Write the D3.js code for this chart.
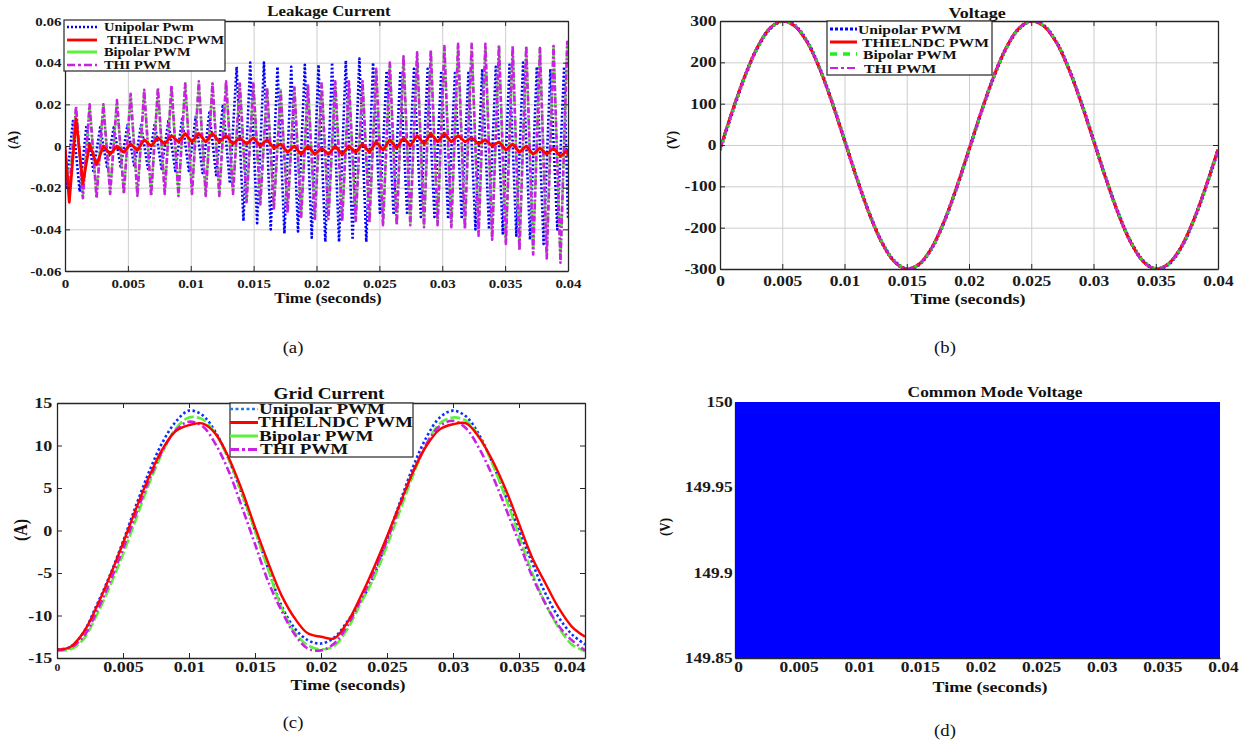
<!DOCTYPE html>
<html>
<head>
<meta charset="utf-8">
<script src="https://cdn.jsdelivr.net/npm/d3@7"></script>
<style>
  body { margin: 0; background: #fff; }
  svg { display: block; }
</style>
</head>
<body>
<svg id="fig" width="1251" height="745"></svg>
<script>
// ---- shared tick values ----
const timeTicks = [0, 0.005, 0.01, 0.015, 0.02, 0.025, 0.03, 0.035, 0.04];
const leakTicks = [-0.06, -0.04, -0.02, 0, 0.02, 0.04, 0.06];
const voltTicks = [-300, -200, -100, 0, 100, 200, 300];
const gridTicks = [-15, -10, -5, 0, 5, 10, 15];
const cmvTicks = [149.85, 149.9, 149.95, 150];

const legendNamesA = ["Unipolar Pwm", "THIELNDC PWM", "Bipolar PWM", "THI PWM"];
const legendNames = ["Unipolar PWM", "THIELNDC PWM", "Bipolar PWM", "THI PWM"];

// ---- (a) leakage current: extrema of each switching cycle ----
const leakPeakT = [0.00088, 0.00196, 0.00305, 0.00413, 0.00522, 0.00630, 0.00739, 0.00847, 0.00956, 0.01064,
  0.01173, 0.01281, 0.01390, 0.01498, 0.01607, 0.01715, 0.01824, 0.01932, 0.02041, 0.02149,
  0.02258, 0.02366, 0.02475, 0.02583, 0.02692, 0.02800, 0.02909, 0.03017, 0.03126, 0.03234,
  0.03343, 0.03451, 0.03560, 0.03668, 0.03777, 0.03885, 0.03994];
const leakTroughT = [0.00034, 0.00142, 0.00251, 0.00359, 0.00468, 0.00576, 0.00685, 0.00793, 0.00902, 0.01010,
  0.01119, 0.01227, 0.01336, 0.01444, 0.01553, 0.01661, 0.01770, 0.01878, 0.01987, 0.02095,
  0.02204, 0.02312, 0.02421, 0.02529, 0.02638, 0.02746, 0.02855, 0.02963, 0.03072, 0.03180,
  0.03289, 0.03397, 0.03506, 0.03614, 0.03723, 0.03831, 0.03940];
const unipolarLead = -0.00025; // unipolar spikes come slightly earlier

const unipolarPeaks = [0.012, 0.010, 0.009, 0.009, 0.010, 0.010, 0.011, 0.012, 0.013, 0.014, 0.016, 0.020,
  0.038, 0.040, 0.040, 0.038, 0.038, 0.039, 0.039, 0.040, 0.041, 0.042, 0.040, 0.036, 0.036, 0.037,
  0.037, 0.036, 0.035, 0.036, 0.037, 0.038, 0.039, 0.040, 0.038, 0.037, 0.038];
const unipolarTroughs = [-0.020, -0.022, -0.012, -0.010, -0.010, -0.010, -0.011, -0.011, -0.012, -0.012, -0.013, -0.014, -0.018,
  -0.036, -0.037, -0.040, -0.042, -0.041, -0.044, -0.046, -0.046, -0.045, -0.046,
  -0.032, -0.033, -0.033, -0.034, -0.034, -0.035, -0.035,
  -0.040, -0.040, -0.042, -0.043, -0.045, -0.047, -0.040];
const unipolarEnds = [0, -0.035];

const thielndcPeaks = [0.013, 0.001, 0.000, 0.000, 0.001, 0.003, 0.004, 0.005, 0.006, 0.006, 0.006, 0.005,
  0.004, 0.004, 0.003, 0.001, 0.000, 0.000, -0.001, 0.000, 0.000, 0.001, 0.002, 0.003, 0.004, 0.005,
  0.006, 0.006, 0.005, 0.004, 0.003, 0.002, 0.001, 0.000, -0.001, -0.001, -0.002];
const thielndcTroughs = [-0.027, -0.018, -0.009, -0.004, -0.003, -0.002, 0.000, 0.001, 0.002, 0.002, 0.002, 0.002,
  0.001, 0.001, 0.000, -0.001, -0.003, -0.004, -0.004, -0.004, -0.004, -0.003, -0.003, -0.002, -0.001,
  0.000, 0.001, 0.002, 0.002, 0.002, 0.001, 0.000, -0.002, -0.003, -0.004, -0.004, -0.005];
const thielndcEnds = [0, -0.005];

const bipolarPeaks = [0.018, 0.019, 0.020, 0.021, 0.024, 0.026, 0.027, 0.028, 0.030, 0.030, 0.030, 0.030,
  0.029, 0.029, 0.028, 0.027, 0.028, 0.029, 0.029, 0.030, 0.030, 0.031, 0.036, 0.039, 0.042, 0.044,
  0.045, 0.047, 0.048, 0.048, 0.048, 0.048, 0.047, 0.047, 0.047, 0.048, 0.049];
const bipolarTroughs = [-0.020, -0.024, -0.024, -0.022, -0.022, -0.023, -0.023, -0.022, -0.023, -0.022, -0.023, -0.023,
  -0.022, -0.026, -0.027, -0.029, -0.031, -0.033, -0.034, -0.034, -0.035, -0.035, -0.036, -0.037, -0.037,
  -0.037, -0.038, -0.037, -0.038, -0.039, -0.041, -0.044, -0.046, -0.049, -0.050, -0.052, -0.054];
const bipolarEnds = [-0.002, 0.046];

const thiPeaks = [0.019, 0.020, 0.020, 0.022, 0.025, 0.027, 0.028, 0.029, 0.030, 0.031, 0.030, 0.031,
  0.030, 0.030, 0.028, 0.026, 0.028, 0.029, 0.030, 0.031, 0.031, 0.031, 0.037, 0.040, 0.043, 0.045,
  0.046, 0.048, 0.049, 0.049, 0.049, 0.048, 0.048, 0.048, 0.047, 0.048, 0.050];
const thiTroughs = [-0.022, -0.025, -0.025, -0.023, -0.023, -0.024, -0.024, -0.023, -0.024, -0.023, -0.024, -0.024,
  -0.023, -0.027, -0.028, -0.030, -0.032, -0.034, -0.035, -0.035, -0.036, -0.036, -0.037, -0.038, -0.038,
  -0.038, -0.039, -0.038, -0.039, -0.040, -0.043, -0.045, -0.047, -0.050, -0.052, -0.054, -0.056];
const thiEnds = [-0.002, 0.047];

// ---- (b) and (c): one sample per millisecond ----
const sampleT = [0, 0.001, 0.002, 0.003, 0.004, 0.005, 0.006, 0.007, 0.008, 0.009, 0.010,
  0.011, 0.012, 0.013, 0.014, 0.015, 0.016, 0.017, 0.018, 0.019, 0.020,
  0.021, 0.022, 0.023, 0.024, 0.025, 0.026, 0.027, 0.028, 0.029, 0.030,
  0.031, 0.032, 0.033, 0.034, 0.035, 0.036, 0.037, 0.038, 0.039, 0.040];

const voltUnipolar = [-12, 81, 166, 235, 281, 300, 289, 250, 186, 104, 12, -81, -166, -235, -281, -300, -289, -250, -186, -104,
  -12, 81, 166, 235, 281, 300, 289, 250, 186, 104, 12, -81, -166, -235, -281, -300, -289, -250, -186, -104, -12];
const voltTHIELNDC = [-10, 83, 167, 236, 282, 300, 288, 249, 185, 103, 11, -82, -167, -236, -282, -300, -288, -249, -185, -103,
  -11, 82, 167, 236, 282, 300, 288, 249, 185, 103, 11, -82, -167, -236, -282, -300, -288, -249, -185, -103, -11];
const voltBipolar = [-13, 80, 165, 234, 281, 299, 289, 251, 187, 105, 13, -80, -165, -234, -281, -299, -289, -251, -187, -105,
  -13, 80, 165, 234, 281, 299, 289, 251, 187, 105, 13, -80, -165, -234, -281, -299, -289, -251, -187, -105, -13];
const voltTHI = [-11, 82, 166, 236, 282, 300, 288, 250, 186, 104, 12, -82, -166, -236, -282, -300, -288, -250, -186, -104,
  -12, 82, 166, 236, 282, 300, 288, 250, 186, 104, 12, -82, -166, -236, -282, -300, -288, -250, -186, -104, -12];

const gridUnipolar = [-14.0, -13.7, -12.0, -8.8, -5.3, -1.3, 3.0, 7.0, 10.4, 12.8, 14.1, 13.6, 11.6, 8.4, 4.3, 0.0,
  -4.5, -8.8, -11.5, -12.9, -13.3, -12.6, -10.7, -8.4, -5.4, -1.0, 3.4, 7.6, 11.0, 13.3, 14.1,
  13.4, 11.2, 7.9, 4.0, 0.0, -3.8, -7.4, -10.2, -12.2, -13.4];
const gridTHIELNDC = [-14.0, -13.7, -12.0, -9.0, -5.4, -1.5, 2.6, 6.4, 9.6, 11.7, 12.4, 12.6, 11.4, 8.6, 4.8, 0.4,
  -3.8, -7.6, -10.3, -12.1, -12.5, -12.7, -10.8, -7.8, -4.4, -0.7, 3.2, 7.0, 10.0, 11.9, 12.5,
  12.6, 10.9, 8.2, 4.8, 0.8, -3.2, -6.2, -9.1, -11.3, -12.5];
const gridBipolar = [-14.1, -14.0, -12.8, -10.0, -6.6, -2.8, 1.4, 5.6, 9.2, 12.0, 13.3, 13.1, 11.4, 8.4, 4.4, 0.0,
  -4.6, -9.0, -12.0, -13.5, -14.0, -13.6, -11.6, -8.6, -5.6, -1.8, 2.4, 6.6, 10.2, 12.6, 13.3,
  12.9, 11.0, 7.8, 3.8, -0.6, -5.0, -8.6, -11.4, -13.4, -14.2];
const gridTHI = [-14.1, -13.8, -12.5, -9.6, -6.1, -2.2, 2.0, 6.0, 9.4, 11.8, 12.8, 12.3, 10.2, 7.0, 2.8, -1.6,
  -6.0, -9.4, -12.2, -13.9, -14.1, -13.3, -11.2, -8.2, -4.9, -1.2, 3.0, 7.0, 10.2, 12.3, 12.9,
  12.0, 9.6, 6.4, 2.6, -1.4, -5.4, -8.6, -11.2, -12.9, -14.1];

// ---- (d) common mode voltage fills the whole view ----
const cmvT = [0, 0.04];
const cmvHigh = [150, 150];
const cmvLow = [149.85, 149.85];

// ---- drawing ----
var svg = d3.select("#fig");
var SERIF = '"Liberation Serif", "Times New Roman", serif';
var STRETCH = 1.2; // the source figure is widened horizontally

var BLUE = "#0000ff", RED = "#ff0000", GREEN = "#5cf23a", MAGENTA = "#cc1ee6";

function txt(parent, x, y, str, size, opt) {
  opt = opt || {};
  var sc = opt.rotate ? "rotate(-90) scale(1," + STRETCH + ")" : "scale(" + (opt.sx || STRETCH) + ",1)";
  return parent.append("text")
    .attr("transform", "translate(" + x + "," + y + ") " + sc)
    .attr("text-anchor", opt.anchor || "middle")
    .attr("font-family", SERIF)
    .attr("font-size", size)
    .attr("font-weight", opt.weight || "bold")
    .attr("fill", opt.fill || "#111")
    .text(str);
}

function styleAxis(a, size) {
  a.attr("font-size", null).attr("font-family", null);
  a.select(".domain").attr("stroke", "#262626").attr("stroke-width", 1.3);
  a.selectAll(".tick line").attr("stroke", "#262626");
  a.selectAll("text")
    .attr("font-family", SERIF)
    .attr("font-weight", "bold")
    .attr("font-size", size)
    .attr("fill", "#1a1a1a")
    .attr("transform", "scale(" + STRETCH + ",1)");
}

function makePanel(p, drawMarks) {
  var w = p.right - p.left, h = p.bottom - p.top;
  var x = d3.scaleLinear().domain([0, 0.04]).range([p.left, p.right]);
  var y = d3.scaleLinear().domain(p.yDomain).range([p.bottom, p.top]);
  var g = svg.append("g");

  // grid
  if (p.grid) {
    g.append("g").attr("transform", "translate(0," + p.bottom + ")")
      .call(d3.axisBottom(x).tickValues(timeTicks).tickSize(-h).tickFormat(""))
      .call(a => a.select(".domain").remove())
      .call(a => a.selectAll("line").attr("stroke", "#cdcdcd"));
    g.append("g").attr("transform", "translate(" + p.left + ",0)")
      .call(d3.axisLeft(y).tickValues(p.yTicks).tickSize(-w).tickFormat(""))
      .call(a => a.select(".domain").remove())
      .call(a => a.selectAll("line").attr("stroke", "#cdcdcd"));
  }

  svg.append("clipPath").attr("id", p.id)
    .append("rect").attr("x", p.left).attr("y", p.top).attr("width", w).attr("height", h);
  var marks = g.append("g").attr("clip-path", "url(#" + p.id + ")");

  if (!p.marksOver) drawMarks(marks, x, y);

  var tick = p.noTicks ? 0 : -5;

  var xa = g.append("g").attr("transform", "translate(0," + p.bottom + ")")
    .call(d3.axisBottom(x).tickValues(timeTicks).tickSizeInner(tick).tickSizeOuter(0)
      .tickPadding(p.xPad).tickFormat(d => String(+d.toFixed(3))))
    .call(a => styleAxis(a, p.tickSize));
  if (p.xShift) xa.selectAll("text").attr("x", p.xShift / STRETCH);
  if (p.smallZero) xa.selectAll("text").filter(d => d === 0).attr("font-size", p.tickSize * 0.65).attr("dy", "1.05em");
  if (p.lastEnd) xa.selectAll("text").filter(d => d === 0.04).attr("text-anchor", "end");

  g.append("g").attr("transform", "translate(" + p.left + ",0)")
    .call(d3.axisLeft(y).tickValues(p.yTicks).tickSizeInner(tick).tickSizeOuter(0)
      .tickPadding(p.yPad).tickFormat(p.yFmt))
    .call(a => styleAxis(a, p.tickSize));

  if (!p.noTicks) {
    g.append("g").attr("transform", "translate(0," + p.top + ")")
      .call(d3.axisTop(x).tickValues(timeTicks).tickSizeInner(-5).tickSizeOuter(0).tickFormat(""))
      .call(a => styleAxis(a, p.tickSize));
    g.append("g").attr("transform", "translate(" + p.right + ",0)")
      .call(d3.axisRight(y).tickValues(p.yTicks).tickSizeInner(-5).tickSizeOuter(0).tickFormat(""))
      .call(a => styleAxis(a, p.tickSize));
  }

  if (p.marksOver) drawMarks(g, x, y);
  return g;
}

function legend(box, rowsY, names, styleList, size, lineX, textX, sx) {
  var g = svg.append("g");
  g.append("rect")
    .attr("x", box[0]).attr("y", box[1]).attr("width", box[2]).attr("height", box[3])
    .attr("fill", "#fff").attr("stroke", "#262626").attr("stroke-width", 1.2);
  names.forEach(function (name, i) {
    var s = styleList[i];
    g.append("line")
      .attr("x1", lineX[0]).attr("x2", lineX[1]).attr("y1", rowsY[i]).attr("y2", rowsY[i])
      .attr("stroke", s.color).attr("stroke-width", s.width)
      .attr("stroke-dasharray", s.dash || null);
    txt(g, textX[i], rowsY[i] + size * 0.35, name, size, {anchor: "start", sx: sx});
  });
}

function drawSeries(g, line, pts, s) {
  g.append("path").datum(pts)
    .attr("fill", "none")
    .attr("stroke", s.color)
    .attr("stroke-width", s.width)
    .attr("stroke-dasharray", s.dash || null)
    .attr("stroke-linejoin", "round")
    .attr("d", line);
}

function leakPoints(troughs, peaks, ends, shift) {
  var pts = [[0, ends[0]]];
  leakPeakT.forEach(function (t, k) {
    pts.push([leakTroughT[k] + shift, troughs[k]]);
    pts.push([t + shift, peaks[k]]);
  });
  pts.push([0.04, ends[1]]);
  return pts;
}

function zipT(vals) {
  return sampleT.map((t, i) => [t, vals[i]]);
}

// ---------- (a) Leakage Current ----------
var styleA = [
  {color: BLUE, width: 2.6, dash: "2,2"},
  {color: RED, width: 2.8},
  {color: GREEN, width: 2.6, dash: "6,2.5"},
  {color: MAGENTA, width: 2.6, dash: "6,2,2,2"}
];
makePanel({id: "clipA", left: 65, right: 568, top: 21, bottom: 271, yDomain: [-0.06, 0.06], yTicks: leakTicks,
  yFmt: d => String(+d.toFixed(2)), grid: true, tickSize: 12.5, xPad: 8, yPad: 3}, function (g, x, y) {
  var line = d3.line().x(d => x(d[0])).y(d => y(d[1]));
  drawSeries(g, line, leakPoints(unipolarTroughs, unipolarPeaks, unipolarEnds, unipolarLead), styleA[0]);
  drawSeries(g, line, leakPoints(bipolarTroughs, bipolarPeaks, bipolarEnds, 0), styleA[2]);
  drawSeries(g, line, leakPoints(thiTroughs, thiPeaks, thiEnds, 0), styleA[3]);
  drawSeries(g, line, leakPoints(thielndcTroughs, thielndcPeaks, thielndcEnds, 0), styleA[1]);
});
txt(svg, 329, 16, "Leakage Current", 14);
txt(svg, 328, 303, "Time (seconds)", 14);
txt(svg, 18, 140, "(A)", 13, {rotate: true});
legend([64, 20, 161, 51], [27, 40, 52, 65], legendNamesA,
  [styleA[0], styleA[1], {color: GREEN, width: 3}, {color: MAGENTA, width: 2.6, dash: "8,3,3,3"}],
  12, [67, 97], [104, 107, 104, 104]);
txt(svg, 293, 353, "(a)", 17, {weight: "normal", sx: 1.1});

// ---------- (b) Voltage ----------
var styleB = [
  {color: BLUE, width: 3.6, dash: "2,2"},
  {color: RED, width: 3},
  {color: "#22dd22", width: 3, dash: "3,5"},
  {color: MAGENTA, width: 2, dash: "8,3,2,3"}
];
makePanel({id: "clipB", left: 720, right: 1218, top: 21, bottom: 269, yDomain: [-300, 300], yTicks: voltTicks,
  yFmt: d => String(d), grid: true, tickSize: 14.5, xPad: 7, yPad: 3}, function (g, x, y) {
  var line = d3.line().x(d => x(d[0])).y(d => y(d[1])).curve(d3.curveCatmullRom);
  drawSeries(g, line, zipT(voltUnipolar), styleB[0]);
  drawSeries(g, line, zipT(voltTHIELNDC), styleB[1]);
  drawSeries(g, line, zipT(voltBipolar), styleB[2]);
  drawSeries(g, line, zipT(voltTHI), styleB[3]);
});
txt(svg, 977, 18, "Voltage", 15);
txt(svg, 968, 304, "Time (seconds)", 15);
txt(svg, 677, 140, "(V)", 13, {rotate: true});
legend([827, 21, 165, 54], [29, 42, 54, 68], legendNames,
  [{color: BLUE, width: 3, dash: "3,2"}, {color: RED, width: 3}, {color: "#22ee22", width: 3.5, dash: "7,6"},
   {color: MAGENTA, width: 2, dash: "8,3,3,3"}],
  13, [830, 857], [858, 862, 863, 864]);
txt(svg, 945, 353, "(b)", 17, {weight: "normal", sx: 1.1});

// ---------- (c) Grid Current ----------
var styleC = [
  {color: "#0a30ff", width: 2.6, dash: "2.5,2.5"},
  {color: RED, width: 2.4},
  {color: GREEN, width: 2.6, dash: "10,3"},
  {color: MAGENTA, width: 2.6, dash: "8,3,2,3"}
];
makePanel({id: "clipC", left: 57, right: 585, top: 403, bottom: 658, yDomain: [-15, 15], yTicks: gridTicks,
  yFmt: d => String(d), grid: false, tickSize: 15, xPad: 3, yPad: 4, smallZero: true, lastEnd: true}, function (g, x, y) {
  var line = d3.line().x(d => x(d[0])).y(d => y(d[1])).curve(d3.curveCatmullRom);
  drawSeries(g, line, zipT(gridUnipolar), styleC[0]);
  drawSeries(g, line, zipT(gridBipolar), styleC[2]);
  drawSeries(g, line, zipT(gridTHI), styleC[3]);
  drawSeries(g, line, zipT(gridTHIELNDC), styleC[1]);
});
txt(svg, 329, 399, "Grid Current", 16);
txt(svg, 348, 690, "Time (seconds)", 15);
txt(svg, 27, 530, "(A)", 16, {rotate: true});
legend([230, 403, 183, 54], [409, 422.5, 436, 449.5], legendNames,
  [{color: "#2a78d8", width: 2.6, dash: "3,2.5"}, {color: RED, width: 3}, {color: GREEN, width: 3},
   {color: MAGENTA, width: 3, dash: "9,3,3,3"}],
  14, [230, 258], [259, 258, 259, 260], 1.36);
txt(svg, 293, 728, "(c)", 17, {weight: "normal", sx: 1.1});

// ---------- (d) Common Mode Voltage ----------
makePanel({id: "clipD", left: 735, right: 1220, top: 402, bottom: 658, yDomain: [149.85, 150], yTicks: cmvTicks,
  yFmt: d => String(+d.toFixed(2)), grid: false, tickSize: 14.5, xPad: 4, yPad: 2, noTicks: true, xShift: 3,
  marksOver: true}, function (g, x, y) {
  var area = d3.area().x(d => x(d[0])).y0(d => y(d[1])).y1(d => y(d[2]));
  g.append("path")
    .datum(cmvT.map((t, i) => [t, cmvLow[i], cmvHigh[i]]))
    .attr("fill", BLUE)
    .attr("d", area);
});
txt(svg, 995, 397, "Common Mode Voltage", 14.5);
txt(svg, 990, 692, "Time (seconds)", 15);
txt(svg, 670, 527, "(V)", 13, {rotate: true});
txt(svg, 945, 736, "(d)", 17, {weight: "normal", sx: 1.1});
</script>
</body>
</html>
